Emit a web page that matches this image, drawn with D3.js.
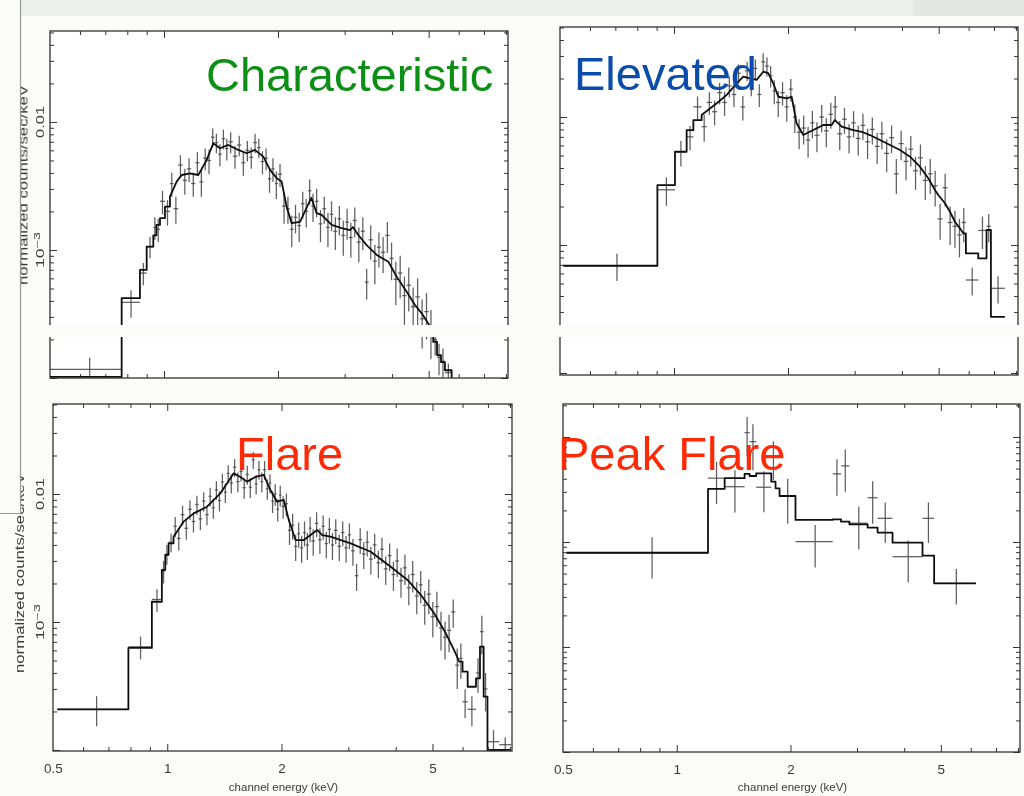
<!DOCTYPE html>
<html><head><meta charset="utf-8">
<script src="https://cdn.jsdelivr.net/npm/d3@7"></script>
<style>html,body{margin:0;padding:0;background:#fbfbf8;}svg{display:block;}</style>
</head><body>
<svg id="chart" width="1024" height="796"></svg>
<script>
// ---------------- DATA ----------------
const panelTitles = ["Characteristic", "Elevated", "Flare", "Peak Flare"];
const xTickValues = [0.5, 1, 2, 5];
const xTickLabels = ["0.5", "1", "2", "5"];
const xMinorValues = [0.6, 0.7, 0.8, 0.9, 3, 4, 6, 7, 8];
const yTickValues = [0.01, 0.001];
const yTickLabels = ["0.01", "10|-3"];
const xAxisTitle = "channel energy (keV)";
const yAxisTitle = "normalized counts/sec/keV";

// Characteristic
const charEdges = [0.50,0.773,0.864,0.900,0.937,0.955,0.976,1.006,
 1.037,1.06,1.09,1.12,1.15,1.18,1.21,1.24,1.27,1.30,1.33,1.36,1.39,1.42,1.45,1.48,1.52,1.56,1.60,1.64,1.68,1.72,1.76,1.80,1.84,1.88,1.92,1.96,2.00,2.05,2.10,2.15,2.20,2.25,2.30,2.35,2.40,2.45,2.50,2.56,2.62,2.68,2.74,2.80,2.87,2.94,3.01,3.08,3.15,3.23,3.31,3.39,3.47,3.56,3.65,3.74,3.84,3.94,4.04,4.15,4.26,4.37,4.49,4.61,4.74,4.87,5.00,5.14,
 5.26,5.39,5.52,5.75];
const charData = [1.17e-4,3.9e-4,6.6e-4,1.06e-3,1.5e-3,1.45e-3,2.4e-3,2.0e-3,
 3.3e-3,2.1e-3,4.6e-3,3.5e-3,4.3e-3,3.3e-3,4.8e-3,3.4e-3,5.2e-3,5.0e-3,
 7.6e-3,6.9e-3,5.6e-3,7.4e-3,6.2e-3,7.0e-3,5.4e-3,6.6e-3,4.8e-3,6.0e-3,
 5.3e-3,6.9e-3,6.3e-3,4.9e-3,5.2e-3,3.6e-3,4.3e-3,3.3e-3,3.9e-3,2.2e-3,
 2.1e-3,1.45e-3,1.8e-3,1.55e-3,2.3e-3,2.0e-3,2.9e-3,2.2e-3,2.4e-3,1.6e-3,
 2.1e-3,1.5e-3,1.9e-3,1.4e-3,1.75e-3,1.3e-3,1.65e-3,1.25e-3,1.7e-3,1.15e-3,
 1.4e-3,5.6e-4,1.2e-3,8.2e-4,1.05e-3,9.6e-4,1.3e-3,8.6e-4,5.9e-4,6.6e-4,
 4.4e-4,5.3e-4,3.6e-4,4.3e-4,2.9e-4,3.3e-4,2.4e-4,
 2.0e-4,1.45e-4,1.35e-4,1.1e-4];
const charErr = [2.7e-5,9.5e-5,1.3e-4,2.0e-4,3e-4,3e-4,5e-4,4.5e-4,
 7e-4,5e-4,9e-4,8e-4,9e-4,7e-4,1e-3,8e-4,1e-3,1.1e-3,
 1.3e-3,1.2e-3,1.1e-3,1.3e-3,1.2e-3,1.3e-3,1.1e-3,1.2e-3,1.0e-3,1.1e-3,
 1.0e-3,1.2e-3,1.1e-3,1.0e-3,1.0e-3,8e-4,9e-4,8e-4,8e-4,6e-4,
 5e-4,4e-4,4.5e-4,4e-4,5.5e-4,5e-4,6.5e-4,5.5e-4,6e-4,4.5e-4,
 5e-4,4.5e-4,5e-4,4e-4,4.5e-4,4e-4,4.5e-4,3.8e-4,4.5e-4,3.5e-4,
 4e-4,1.5e-4,3.6e-4,2.8e-4,3.2e-4,3e-4,3.5e-4,2.8e-4,2.2e-4,2.4e-4,
 1.8e-4,2e-4,1.5e-4,1.7e-4,1.2e-4,1.3e-4,1e-4,
 5e-5,4e-5,3.5e-5,2e-5];
const charModel = [[0.50,1.02e-4],[0.773,1.02e-4],[0.773,4.2e-4],[0.864,4.2e-4],[0.864,6.98e-4],[0.900,6.98e-4],[0.900,1.06e-3],[0.937,1.06e-3],[0.937,1.30e-3],[0.955,1.30e-3],[0.955,1.57e-3],[0.976,1.57e-3],[0.976,1.77e-3],[1.006,1.77e-3],[1.006,2.18e-3],[1.037,2.18e-3],[1.037,2.61e-3],
 [1.080,3.42e-3],[1.114,3.85e-3],[1.171,3.97e-3],[1.232,3.85e-3],[1.297,5.05e-3],[1.349,6.82e-3],[1.406,6.23e-3],[1.478,6.61e-3],[1.571,6.04e-3],[1.653,5.69e-3],[1.739,6.04e-3],[1.829,5.36e-3],[1.906,4.22e-3],[1.985,3.63e-3],[2.045,3.42e-3],[2.108,2.18e-3],[2.173,1.62e-3],[2.287,1.66e-3],[2.45,2.56e-3],[2.53,1.94e-3],[2.608,1.88e-3],[2.772,1.57e-3],[2.946,1.48e-3],[3.099,1.43e-3],[3.155,1.51e-3],[3.259,1.31e-3],[3.429,1.09e-3],[3.645,9.14e-4],[3.912,8.10e-4],[4.116,6.18e-4],[4.374,4.72e-4],[4.601,3.72e-4],[4.793,3.20e-4],[4.988,2.67e-4],[5.14,2.3e-4],
 [5.14,1.92e-4],[5.26,1.92e-4],[5.26,1.51e-4],[5.39,1.51e-4],[5.39,1.33e-4],[5.52,1.33e-4],[5.52,1.15e-4],[5.75,1.15e-4],[5.75,1.0e-4]];

// Elevated
const elevEdges = [0.51,0.904,1.006,1.080,1.125,
 1.183,1.22,1.26,1.30,1.34,1.38,1.42,1.46,1.50,1.54,1.58,1.62,1.66,1.70,1.74,1.78,1.82,1.86,1.91,1.96,2.01,2.06,2.11,2.17,2.23,2.29,2.35,2.42,2.49,2.56,2.63,2.70,2.78,2.86,2.94,3.02,3.11,3.20,3.29,3.39,3.49,3.59,3.70,3.81,3.92,4.04,4.16,4.28,4.41,4.54,4.68,4.82,4.97,5.12,5.28,5.44,5.60,5.75,5.90,
 6.36,6.69,6.87,7.48];
const elevData = [6.89e-4,2.7e-3,5.3e-3,7.0e-3,1.2e-2,
 8.4e-3,1.3e-2,1.1e-2,1.55e-2,1.3e-2,1.75e-2,1.5e-2,2.2e-2,1.2e-2,2.3e-2,
 1.8e-2,2.4e-2,1.5e-2,2.7e-2,2.5e-2,2.1e-2,1.6e-2,1.3e-2,1.55e-2,1.2e-2,
 1.65e-2,1.0e-2,7.6e-3,8.2e-3,6.6e-3,9.0e-3,7.2e-3,1.0e-2,7.8e-3,1.05e-2,
 1.2e-2,7.4e-3,9.6e-3,7.0e-3,9.0e-3,6.8e-3,8.6e-3,6.4e-3,8.0e-3,5.9e-3,
 7.4e-3,5.2e-3,6.9e-3,3.6e-3,6.2e-3,4.5e-3,5.6e-3,3.8e-3,4.8e-3,3.2e-3,
 3.6e-3,2.9e-3,1.6e-3,2.8e-3,1.5e-3,1.4e-3,1.2e-3,1.5e-3,
 5.33e-4,1.3e-3,1.4e-3,4.59e-4];
const elevErr = [1.65e-4,6.8e-4,1.2e-3,1.5e-3,2.5e-3,
 2e-3,2.6e-3,2.4e-3,3e-3,2.8e-3,3.2e-3,3e-3,3.8e-3,2.6e-3,4e-3,
 3.5e-3,4.2e-3,3e-3,4.5e-3,4.3e-3,4e-3,3.4e-3,3e-3,3.2e-3,2.8e-3,
 3.3e-3,2.5e-3,2e-3,2.1e-3,1.8e-3,2.2e-3,1.9e-3,2.4e-3,2e-3,2.4e-3,
 2.6e-3,1.9e-3,2.2e-3,1.8e-3,2.1e-3,1.8e-3,2e-3,1.7e-3,1.9e-3,1.6e-3,
 1.8e-3,1.5e-3,1.7e-3,1.1e-3,1.6e-3,1.3e-3,1.5e-3,1.1e-3,1.3e-3,9.5e-4,
 1.1e-3,9e-4,5e-4,8e-4,5e-4,4.5e-4,4e-4,4.5e-4,
 1.3e-4,3.7e-4,3.5e-4,1.1e-4];
const elevModel = [[0.51,6.89e-4],[0.904,6.89e-4],[0.904,2.94e-3],[1.006,2.94e-3],[1.006,5.36e-3],[1.080,5.36e-3],[1.080,7.91e-3],[1.125,7.91e-3],[1.125,9.47e-3],[1.183,9.47e-3],[1.183,1.036e-2],
 [1.297,1.28e-2],[1.378,1.49e-2],[1.464,1.83e-2],[1.524,2.07e-2],[1.587,2.0e-2],[1.653,1.95e-2],[1.721,2.26e-2],[1.774,2.20e-2],[1.829,1.83e-2],[1.886,1.44e-2],[1.985,1.40e-2],[2.045,1.44e-2],[2.108,8.93e-3],[2.195,7.23e-3],[2.333,7.91e-3],[2.479,8.66e-3],[2.608,8.66e-3],[2.661,9.47e-3],[2.772,8.40e-3],[2.975,7.91e-3],[3.130,7.67e-3],[3.292,7.23e-3],[3.499,6.61e-3],[3.719,6.04e-3],[3.951,5.52e-3],[4.199,4.90e-3],[4.462,4.09e-3],[4.694,3.32e-3],[4.888,2.69e-3],[4.988,2.46e-3],[5.195,2.12e-3],[5.356,1.82e-3],[5.52,1.52e-3],[5.69,1.35e-3],[5.81,1.23e-3],[5.90,1.23e-3],
 [5.90,8.61e-4],[6.36,8.61e-4],[6.36,7.87e-4],[6.69,7.87e-4],[6.69,1.31e-3],[6.87,1.31e-3],[6.87,2.75e-4],[7.48,2.75e-4]];

// Flare
const flareEdges = [0.513,0.790,0.911,0.968,0.988,1.008,
 1.039,1.06,1.085,1.11,1.135,1.16,1.185,1.21,1.235,1.26,
 1.285,1.31,1.335,1.36,1.385,1.41,1.435,1.46,1.49,1.52,
 1.55,1.58,1.61,1.64,1.67,1.70,1.73,1.76,1.79,1.82,
 1.85,1.88,1.91,1.94,1.97,2.00,2.04,2.08,2.12,2.16,
 2.20,2.24,2.28,2.32,2.36,2.40,2.45,2.50,2.55,2.60,
 2.65,2.70,2.75,2.81,2.87,2.93,2.99,3.05,3.12,3.19,
 3.26,3.33,3.40,3.48,3.56,3.64,3.72,3.81,3.90,3.99,
 4.08,4.18,4.28,4.38,4.49,4.60,4.71,4.83,4.95,5.07,
 5.20,5.33,5.46,5.60,5.74,5.88,
 6.00,6.19,6.51,6.67,6.82,6.98,7.5,8.05];
const flareData = [2.08e-4,6.4e-4,1.5e-3,2.5e-3,3.4e-3,4.2e-3,
 5.6e-3,4.5e-3,6.9e-3,5.4e-3,7.6e-3,6.1e-3,8.3e-3,6.4e-3,8.8e-3,6.9e-3,
 9.6e-3,7.8e-3,1.08e-2,8.9e-3,1.24e-2,1.03e-2,1.45e-2,1.22e-2,1.62e-2,1.25e-2,
 1.5e-2,1.12e-2,1.42e-2,1.13e-2,1.85e-2,1.2e-2,1.55e-2,1.25e-2,1.55e-2,1.1e-2,
 1.22e-2,8.8e-3,1.0e-2,7.6e-3,9.8e-3,8.0e-3,8.4e-3,5.2e-3,5.7e-3,3.9e-3,
 4.9e-3,3.8e-3,5.0e-3,4.0e-3,5.4e-3,4.3e-3,5.9e-3,4.4e-3,5.6e-3,4.1e-3,
 5.3e-3,4.0e-3,5.2e-3,3.9e-3,5.0e-3,3.8e-3,4.8e-3,3.6e-3,2.3e-3,4.4e-3,
 3.4e-3,4.2e-3,3.1e-3,4.0e-3,2.9e-3,3.7e-3,2.6e-3,3.3e-3,2.35e-3,3.0e-3,
 2.1e-3,2.65e-3,1.85e-3,2.35e-3,1.6e-3,1.95e-3,1.35e-3,1.65e-3,1.1e-3,1.32e-3,
 9.0e-4,7.6e-4,8.6e-4,1.2e-3,4.6e-4,
 5.2e-4,2.38e-4,2.08e-4,4.0e-4,8.4e-4,3.0e-4,1.16e-4,1.1e-4];
const flareErr = [5.5e-5,1.3e-4,3e-4,5e-4,6e-4,7e-4,
 1.0e-3,9e-4,1.2e-3,1.0e-3,1.3e-3,1.1e-3,1.4e-3,1.2e-3,1.5e-3,1.2e-3,
 1.6e-3,1.4e-3,1.8e-3,1.6e-3,2e-3,1.8e-3,2.3e-3,2.1e-3,2.6e-3,2.2e-3,
 2.5e-3,2e-3,2.4e-3,2e-3,2.8e-3,2.1e-3,2.6e-3,2.2e-3,2.6e-3,2e-3,
 2.1e-3,1.7e-3,1.9e-3,1.5e-3,1.8e-3,1.6e-3,1.7e-3,1.2e-3,1.3e-3,9e-4,
 1.1e-3,9e-4,1.1e-3,9.5e-4,1.2e-3,1e-3,1.3e-3,1e-3,1.2e-3,9.5e-4,
 1.2e-3,9.5e-4,1.15e-3,9e-4,1.1e-3,9e-4,1.1e-3,8.5e-4,5.5e-4,1e-3,
 8e-4,9.5e-4,7.5e-4,9e-4,7e-4,8.5e-4,6.5e-4,8e-4,6e-4,7.5e-4,
 5.5e-4,7e-4,5e-4,6.5e-4,4.5e-4,5.5e-4,4e-4,5e-4,3.4e-4,4e-4,
 3e-4,2.5e-4,2.8e-4,3e-4,1.6e-4,
 1.6e-4,6e-5,5.5e-5,1.2e-4,2.8e-4,1e-4,2.7e-5,1.6e-5];
const flareModel = [[0.513,2.08e-4],[0.790,2.08e-4],[0.790,6.27e-4],[0.911,6.27e-4],[0.911,1.44e-3],[0.968,1.44e-3],[0.968,2.55e-3],[0.988,2.55e-3],[0.988,3.34e-3],[1.008,3.34e-3],[1.008,4.12e-3],[1.039,4.12e-3],[1.039,4.64e-3],
 [1.104,6.08e-3],[1.174,7.06e-3],[1.273,7.96e-3],[1.380,1.01e-2],[1.497,1.45e-2],[1.559,1.36e-2],[1.623,1.25e-2],[1.708,1.36e-2],[1.796,1.41e-2],[1.871,1.07e-2],[1.948,8.71e-3],[2.028,8.98e-3],[2.091,6.27e-3],[2.178,4.37e-3],[2.291,4.37e-3],[2.485,5.23e-3],[2.562,4.78e-3],[2.694,4.64e-3],[3.042,4.12e-3],[3.436,3.54e-3],[3.880,2.70e-3],[4.296,2.13e-3],[4.657,1.63e-3],[5.049,1.17e-3],[5.422,8.16e-4],[5.70,6.04e-4],[5.88,4.90e-4],[6.00,4.90e-4],
 [6.00,4.09e-4],[6.19,4.09e-4],[6.19,3.12e-4],[6.51,3.12e-4],[6.51,3.63e-4],[6.67,3.63e-4],[6.67,6.41e-4],[6.82,6.41e-4],[6.82,2.61e-4],[6.98,2.61e-4],[6.98,1.0e-4],[8.05,1.0e-4]];

// Peak Flare
const peakEdges = [0.511,1.210,1.339,1.512,1.559,1.623,1.779,1.826,1.871,2.062,2.587,2.722,2.864,3.200,3.401,3.725,4.472,4.800,6.19];
const peakModel = [7.91e-3,3.20e-2,4.05e-2,4.45e-2,4.25e-2,4.51e-2,3.75e-2,3.24e-2,2.74e-2,1.62e-2,1.64e-2,1.56e-2,1.47e-2,1.37e-2,1.23e-2,9.85e-3,7.41e-3,4.04e-3];
const peakData = [7.80e-3,4.05e-2,3.36e-2,0.110,9.02e-2,3.32e-2,6.49e-2,null,2.74e-2,1.01e-2,4.45e-2,5.3e-2,1.51e-2,2.64e-2,1.68e-2,7.24e-3,1.68e-2,4.04e-3];
const peakErr = [3.3e-3,1.75e-2,1.45e-2,4.5e-2,4.2e-2,1.4e-2,2.6e-2,null,1.25e-2,4.4e-3,1.7e-2,2.3e-2,6.6e-3,1.15e-2,7e-3,3.1e-3,7e-3,1.5e-3];

// ---------------- LAYOUT ----------------
const PAGE = "#fbfbf8";
const peakVertices = [];
peakModel.forEach((v, i) => { peakVertices.push([peakEdges[i], v]); peakVertices.push([peakEdges[i + 1], v]); });

const panels = [
  {title: panelTitles[0], color: "#0c8f14", tx: 206, ty: 91, box: [50, 31, 508, 378], yDom: [1e-4, 0.0513], band: [325, 337],
   edges: charEdges, data: charData, err: charErr, model: charModel, yLabels: true, xLabels: false, yTitleX: 27.5, yTitleY: 185},
  {title: panelTitles[1], color: "#0a4cab", tx: 574, ty: 90, box: [560, 27, 1018, 375], yDom: [9.65e-5, 0.0505], band: [325, 337],
   edges: elevEdges, data: elevData, err: elevErr, model: elevModel, yLabels: false, xLabels: false},
  {title: panelTitles[2], color: "#fe2a06", tx: 236, ty: 470, box: [53, 404, 512, 751], yDom: [9.82e-5, 0.0505], band: null,
   edges: flareEdges, data: flareData, err: flareErr, model: flareModel, yLabels: true, xLabels: true, yTitleX: 24, yTitleY: 573},
  {title: panelTitles[3], color: "#fe2a06", tx: 558, ty: 470, box: [563, 404, 1020, 752], yDom: [1e-4, 0.206], band: null,
   edges: peakEdges, data: peakData, err: peakErr, model: peakVertices, yLabels: false, xLabels: true}
];

const svg = d3.select("#chart");
const defs = svg.append("defs");
defs.append("filter").attr("id", "soft").attr("x", "-5%").attr("y", "-5%").attr("width", "110%").attr("height", "110%")
  .append("feGaussianBlur").attr("stdDeviation", 0.45);

svg.append("rect").attr("width", 1024).attr("height", 796).attr("fill", PAGE);
svg.append("rect").attr("x", 20).attr("y", 0).attr("width", 1004).attr("height", 16).attr("fill", "#edefec");
svg.append("rect").attr("x", 913).attr("y", 0).attr("width", 111).attr("height", 16).attr("fill", "#e4e8e2");

function logTicks(dom) {
  const maj = [], min = [];
  for (let e = -5; e <= 0; e++) {
    const b = Math.pow(10, e);
    if (b >= dom[0] * 0.999 && b <= dom[1]) maj.push(b);
    for (let k = 2; k < 10; k++) { const v = k * b; if (v >= dom[0] && v <= dom[1]) min.push(v); }
  }
  return {maj, min};
}

function ticks(g, axisFn, scale, values, size, tr) {
  const s = g.append("g").attr("transform", tr)
    .call(axisFn(scale).tickValues(values).tickSize(size).tickFormat(""));
  s.select(".domain").remove();
  s.selectAll(".tick line").attr("stroke", "#333").attr("stroke-width", 1);
}

const FONT = "Liberation Sans, Arial, Helvetica, sans-serif";

panels.forEach((p, i) => {
  const [x0, y0, x1, y1] = p.box;
  const x = d3.scaleLog().domain([0.5, 8.1]).range([x0, x1]);
  const y = d3.scaleLog().domain(p.yDom).range([y1, y0]);
  const g = svg.append("g").attr("filter", "url(#soft)");
  g.append("rect").attr("x", x0).attr("y", y0).attr("width", x1 - x0).attr("height", y1 - y0).attr("fill", "#ffffff");
  defs.append("clipPath").attr("id", "clip" + i).append("rect")
    .attr("x", x0).attr("y", y0).attr("width", x1 - x0).attr("height", y1 - y0);
  const plot = g.append("g").attr("clip-path", `url(#clip${i})`);

  // data crosses
  const crosses = plot.append("g").attr("stroke", "#4d4d4d").attr("stroke-width", 1.25).attr("stroke-opacity", 0.9);
  p.data.forEach((d, j) => {
    if (d == null || p.edges[j + 1] === undefined) return;
    const lo = p.edges[j], hi = p.edges[j + 1], c = (lo + hi) / 2, e = p.err[j];
    crosses.append("line").attr("x1", x(lo)).attr("x2", x(hi)).attr("y1", y(d)).attr("y2", y(d));
    const bot = Math.max(d - e, p.yDom[0] * 0.8);
    crosses.append("line").attr("x1", x(c)).attr("x2", x(c)).attr("y1", y(bot)).attr("y2", y(d + e));
  });

  // model
  plot.append("path").datum(p.model)
    .attr("d", d3.line().x(d => x(d[0])).y(d => y(d[1])))
    .attr("fill", "none").attr("stroke", "#111").attr("stroke-width", 1.8).attr("stroke-linejoin", "round");

  // frame
  g.append("rect").attr("x", x0).attr("y", y0).attr("width", x1 - x0).attr("height", y1 - y0)
    .attr("fill", "none").attr("stroke", "#333").attr("stroke-width", 1.3);

  // ticks on all four sides
  ticks(g, d3.axisBottom, x, [1, 2, 5], -7, `translate(0,${y1})`);
  ticks(g, d3.axisBottom, x, xMinorValues, -4, `translate(0,${y1})`);
  ticks(g, d3.axisTop, x, [1, 2, 5], -7, `translate(0,${y0})`);
  ticks(g, d3.axisTop, x, xMinorValues, -4, `translate(0,${y0})`);
  const yt = logTicks(p.yDom);
  ticks(g, d3.axisLeft, y, yt.maj, -7, `translate(${x0},0)`);
  ticks(g, d3.axisLeft, y, yt.min, -4, `translate(${x0},0)`);
  ticks(g, d3.axisRight, y, yt.maj, -7, `translate(${x1},0)`);
  ticks(g, d3.axisRight, y, yt.min, -4, `translate(${x1},0)`);

  // white gap band
  if (p.band) {
    g.append("rect").attr("x", x0 - 4).attr("y", p.band[0]).attr("width", x1 - x0 + 8)
      .attr("height", p.band[1] - p.band[0]).attr("fill", PAGE);
  }

  // x tick labels
  if (p.xLabels) {
    const ax = g.append("g").attr("transform", `translate(0,${y1})`)
      .call(d3.axisBottom(x).tickValues(xTickValues).tickFormat((d, k) => xTickLabels[k]).tickSize(0).tickPadding(12));
    ax.select(".domain").remove();
    ax.selectAll("text").attr("font-family", FONT).attr("font-size", 13.5).attr("fill", "#3a3a3a");
    g.append("text").attr("x", (x0 + x1) / 2 + 1).attr("y", 790.5).attr("text-anchor", "middle")
      .attr("font-family", FONT).attr("font-size", 11.5).attr("fill", "#3a3a3a").text(xAxisTitle);
  }

  // y tick labels (rotated)
  if (p.yLabels) {
    yTickValues.forEach((v, k) => {
      const t = g.append("text").attr("transform", `translate(44,${y(v)}) rotate(-90)`)
        .attr("text-anchor", "middle").attr("font-family", FONT).attr("font-size", 10.5).attr("fill", "#3a3a3a");
      const parts = yTickLabels[k].split("|");
      if (parts.length === 1) {
        t.attr("textLength", 32).attr("lengthAdjust", "spacingAndGlyphs").text(parts[0]);
      } else {
        t.attr("textLength", 36).attr("lengthAdjust", "spacingAndGlyphs");
        t.append("tspan").text(parts[0]);
        t.append("tspan").attr("dy", -4).attr("font-size", 8.5).text(parts[1].replace("-", "\u2212"));
      }
    });
    svg.append("text").attr("transform", `translate(${p.yTitleX},${p.yTitleY}) rotate(-90)`)
      .attr("text-anchor", "middle").attr("font-family", FONT).attr("font-size", 13)
      .attr("textLength", 200).attr("lengthAdjust", "spacingAndGlyphs")
      .attr("fill", "#3a3a3a").attr("filter", "url(#soft)").text(yAxisTitle);
  }
});

// cover left strip and draw the slide edge line
svg.append("rect").attr("x", 0).attr("y", 0).attr("width", 20).attr("height", 513).attr("fill", PAGE);
svg.append("path").attr("d", "M20.5,0V513.5H0").attr("fill", "none").attr("stroke", "#9a9a9a").attr("stroke-width", 1.2);

// big coloured titles
panels.forEach(p => {
  svg.append("text").attr("x", p.tx).attr("y", p.ty).attr("font-family", FONT)
    .attr("font-size", 47).attr("fill", p.color).text(p.title);
});
</script>
</body></html>
